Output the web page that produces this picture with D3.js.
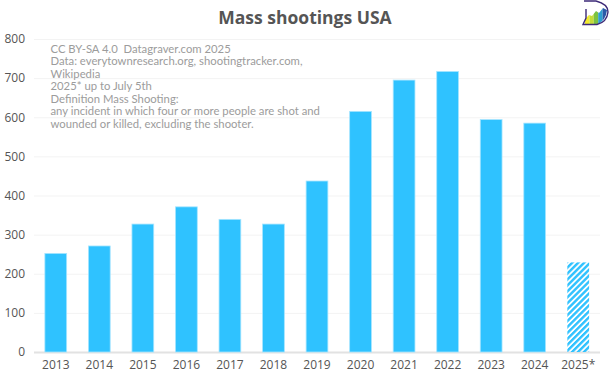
<!DOCTYPE html>
<html>
<head>
<meta charset="utf-8">
<script src="https://cdn.jsdelivr.net/npm/d3@7"></script>
<style>
  html, body { margin: 0; padding: 0; background: #fff; }
  svg { display: block; }
  text { font-family: "Open Sans", "Noto Sans", sans-serif; }
  .note { font-family: Lato, "Open Sans", sans-serif; white-space: pre; }
</style>
</head>
<body>
<svg id="chart" width="610" height="378"></svg>
<script>
const years = ['2013','2014','2015','2016','2017','2018','2019','2020','2021','2022','2023','2024','2025*'];
const shootings = [252, 271, 327, 371, 339, 327, 437, 615, 695, 717, 594, 585, 229];
const yTicks = [0, 100, 200, 300, 400, 500, 600, 700, 800];
const noteLines = [
  'CC BY-SA 4.0  Datagraver.com 2025',
  'Data: everytownresearch.org, shootingtracker.com,',
  'Wikipedia',
  '2025* up to July 5th',
  'Definition Mass Shooting:',
  'any incident in which four or more people are shot and',
  'wounded or killed, excluding the shooter.'
];
const logoColors = ['#f2ea2e', '#c5dc3a', '#7cc242', '#2f9fd0', '#2c5aa8'];

const svg = d3.select('#chart');
const margin = {top: 39, right: 10, bottom: 26, left: 34};
const width = 610 - margin.left - margin.right;
const height = 378 - margin.top - margin.bottom;

const defs = svg.append('defs');

// hatch for the unfinished year
const hatch = defs.append('pattern')
    .attr('id', 'hatch')
    .attr('patternUnits', 'userSpaceOnUse')
    .attr('width', 4.2)
    .attr('height', 4.2)
    .attr('patternTransform', 'rotate(-45)');
hatch.append('rect')
    .attr('width', 4.2).attr('height', 2.4)
    .attr('fill', '#2fc2ff');

const chart = svg.append('g')
    .attr('transform', `translate(${margin.left},${margin.top})`);

const xScale = d3.scaleBand()
    .domain(years)
    .range([0, width])
    .paddingInner(0.5)
    .paddingOuter(0.25);

const yScale = d3.scaleLinear()
    .domain([0, 800])
    .range([height, 0]);

// gridlines
chart.append('g').selectAll('line')
    .data(yTicks)
    .join('line')
      .attr('x1', 0)
      .attr('x2', width)
      .attr('y1', d => yScale(d) + 0.5)
      .attr('y2', d => yScale(d) + 0.5)
      .attr('stroke', d => d === 0 ? '#e2e2e2' : '#f3f3f3')
      .attr('stroke-width', d => d === 0 ? 2 : 1);

// y axis
const yAxis = d3.axisLeft(yScale).tickValues(yTicks).tickSize(0).tickPadding(9);
const yAxisG = chart.append('g').call(yAxis);
yAxisG.select('.domain').remove();
yAxisG.selectAll('text').attr('fill', '#555').attr('font-size', 12);

// x axis
const xAxis = d3.axisBottom(xScale).tickSize(0).tickPadding(8);
const xAxisG = chart.append('g')
    .attr('transform', `translate(0,${height})`)
    .call(xAxis);
xAxisG.select('.domain').remove();
xAxisG.selectAll('text').attr('fill', '#555').attr('font-size', 12);

// bars, with the pale edge the solid ones have
chart.selectAll('rect.bar')
    .data(years.map((y, i) => ({year: y, value: shootings[i]})))
    .join('rect')
      .attr('class', 'bar')
      .attr('x', d => xScale(d.year))
      .attr('y', d => yScale(d.value))
      .attr('width', xScale.bandwidth())
      .attr('height', d => height - yScale(d.value))
      .attr('fill', d => d.year.endsWith('*') ? 'url(#hatch)' : '#2fc2ff')
      .attr('stroke', d => d.year.endsWith('*') ? 'none' : '#a6e5ff')
      .attr('stroke-width', 0.8);

// title
svg.append('text')
    .attr('x', 305)
    .attr('y', 24)
    .attr('text-anchor', 'middle')
    .attr('font-size', 17.5)
    .attr('font-weight', 700)
    .attr('fill', '#555')
    .text('Mass shootings USA');

// credits and definition
svg.append('g').selectAll('text')
    .data(noteLines)
    .join('text')
      .attr('class', 'note')
      .attr('x', 50.5)
      .attr('y', (d, i) => 53 + i * 12.45)
      .attr('font-size', 11.3)
      .attr('fill', '#9c9c9c')
      .text(d => d);

// logo top right: coloured stripes cut to a rising skyline, inside a D
defs.append('clipPath').attr('id', 'logoClip')
  .append('path')
    .attr('d', 'M585 24 L585 19 L589 15 L592 16 L596 11 L599 13 L603 8 L607 10 Q606 20 598 24 Z');
const logo = svg.append('g');
logo.append('g')
    .attr('clip-path', 'url(#logoClip)')
  .selectAll('rect')
  .data(logoColors)
  .join('rect')
    .attr('x', (d, i) => 585 + i * 4.4)
    .attr('y', 6)
    .attr('width', 4.4)
    .attr('height', 19)
    .attr('fill', d => d);
logo.append('path')
    .attr('d', 'M584 1 H596 Q608 4 608 12 Q607 22 597 24.5 H583 L586 18 V9')
    .attr('fill', 'none')
    .attr('stroke', '#3d2a78')
    .attr('stroke-width', 1.4);
</script>
</body>
</html>
